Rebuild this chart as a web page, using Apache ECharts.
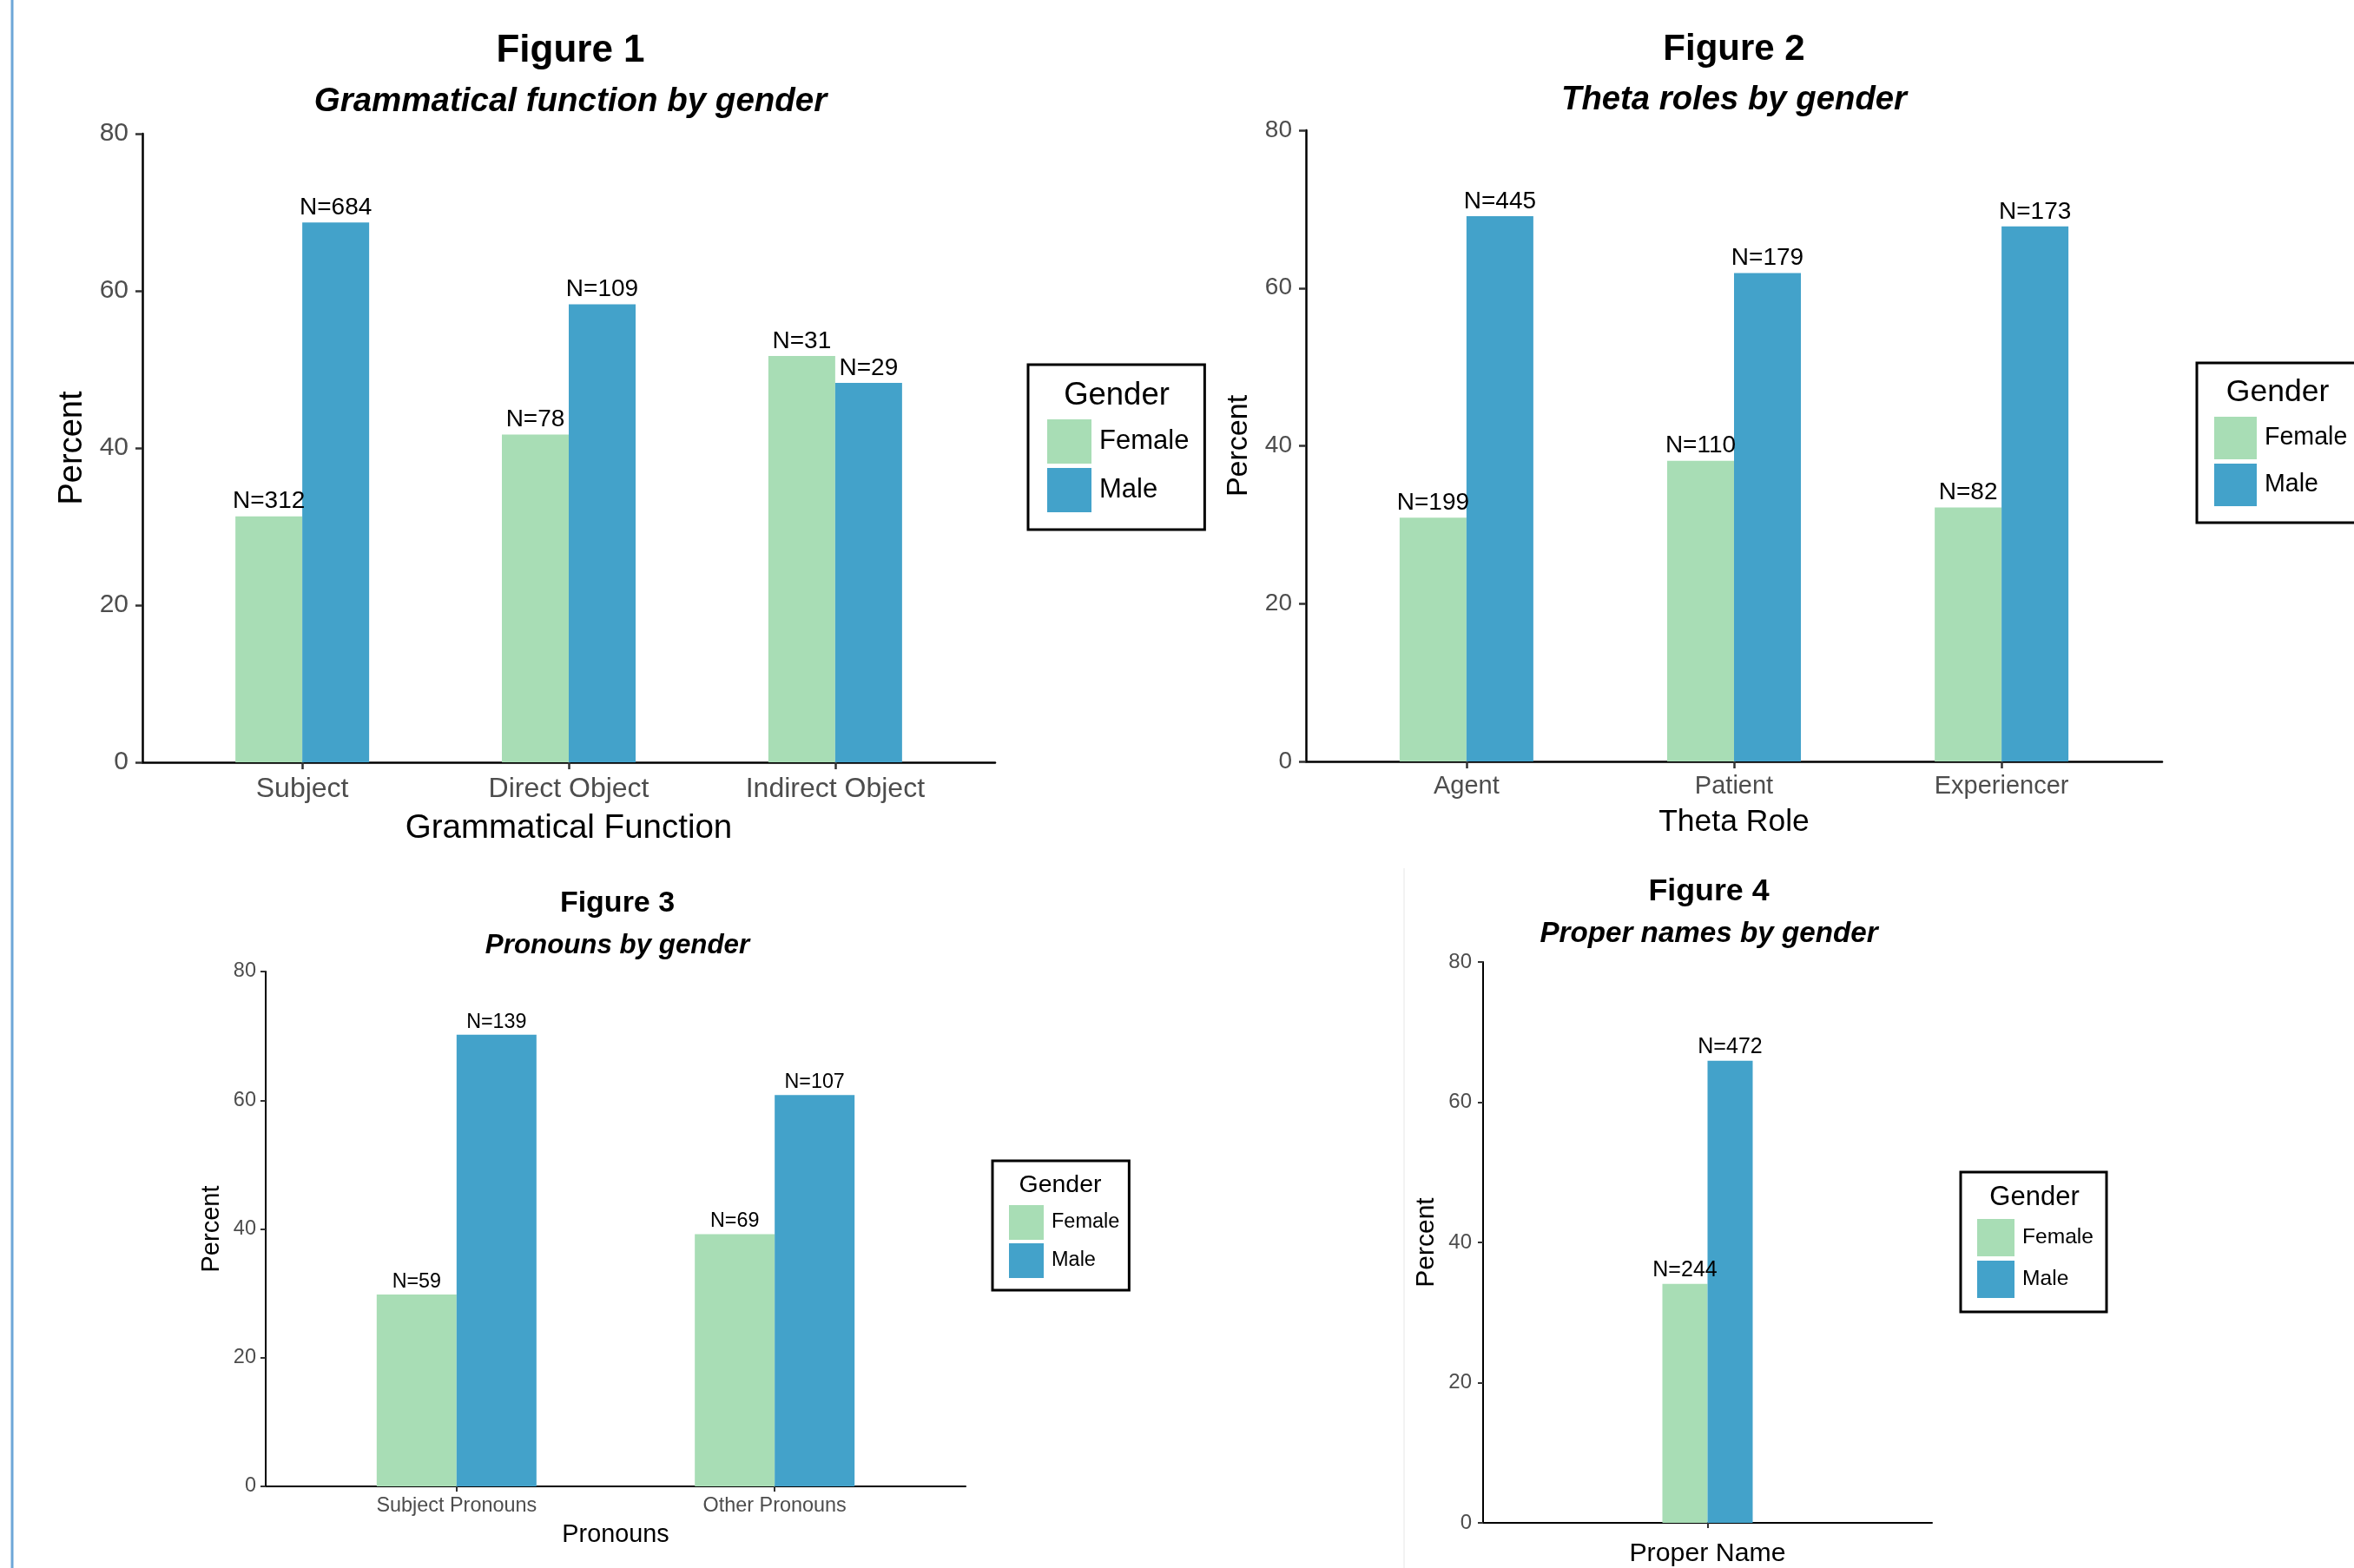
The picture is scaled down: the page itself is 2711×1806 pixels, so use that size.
<!DOCTYPE html>
<html><head><meta charset="utf-8">
<script src="https://cdn.jsdelivr.net/npm/echarts@6/dist/echarts.min.js"></script>
<style>html,body{margin:0;padding:0;background:#fff}#c{width:2711px;height:1806px}</style>
</head><body><div id="c"></div>
<script>
// ---- data ----
const genders = ['Female', 'Male'];
const yTickValues = [0, 20, 40, 60, 80];

const fig1Categories = ['Subject', 'Direct Object', 'Indirect Object'];
const fig1Female = [31.3, 41.7, 51.7];
const fig1Male = [68.7, 58.3, 48.3];
const fig1FemaleN = [312, 78, 31];
const fig1MaleN = [684, 109, 29];

const fig2Categories = ['Agent', 'Patient', 'Experiencer'];
const fig2Female = [30.9, 38.1, 32.2];
const fig2Male = [69.1, 61.9, 67.8];
const fig2FemaleN = [199, 110, 82];
const fig2MaleN = [445, 179, 173];

const fig3Categories = ['Subject Pronouns', 'Other Pronouns'];
const fig3Female = [29.8, 39.2];
const fig3Male = [70.2, 60.8];
const fig3FemaleN = [59, 69];
const fig3MaleN = [139, 107];

const fig4Categories = ['Proper Name'];
const fig4Female = [34.1];
const fig4Male = [65.9];
const fig4FemaleN = [244];
const fig4MaleN = [472];

// ---- styling / layout ----
const NARROW = '"Liberation Sans Narrow","Arial Narrow","Liberation Sans",Arial,sans-serif';
const WIDE = '"Liberation Sans",Arial,sans-serif';
const COLORS = { Female: '#a8ddb5', Male: '#43a2ca' };

const panels = [
  { cats: fig1Categories, vals: [fig1Female, fig1Male], ns: [fig1FemaleN, fig1MaleN],
    title: 'Figure 1', sub: 'Grammatical function by gender', xName: 'Grammatical Function',
    grid: { left: 164, top: 154, width: 982, height: 724 }, barW: 77,
    titleX: 657, titleY: 59, subY: 117, titleFs: 44, subFs: 38.5,
    tickFs: 30, xLabFs: 32, nFs: 28, nameFs: 38.5, yNameFs: 38, lw: 2.5, tickLen: 8,
    xMargin: 15, yMargin: 16, xNameGap: 57, yNameGap: 61, showX: true,
    legend: { left: 1184, top: 420, pad: [63, 18, 20, 22], sw: 51, gap: 5, fs: 31, titleX: 1286, titleY: 456, titleFs: 36.5 } },
  { cats: fig2Categories, vals: [fig2Female, fig2Male], ns: [fig2FemaleN, fig2MaleN],
    title: 'Figure 2', sub: 'Theta roles by gender', xName: 'Theta Role',
    grid: { left: 1504, top: 150, width: 986, height: 727 }, barW: 77,
    titleX: 1997, titleY: 57, subY: 115, titleFs: 42, subFs: 38.3,
    tickFs: 28, xLabFs: 29, nFs: 28, nameFs: 35.5, yNameFs: 34, lw: 2.5, tickLen: 8,
    xMargin: 14, yMargin: 16, xNameGap: 52, yNameGap: 60, showX: true,
    legend: { left: 2530, top: 418, pad: [62, 30, 19, 20], sw: 49, gap: 5, fs: 28.6, titleX: 2623, titleY: 452, titleFs: 35.5 } },
  { cats: fig3Categories, vals: [fig3Female, fig3Male], ns: [fig3FemaleN, fig3MaleN],
    title: 'Figure 3', sub: 'Pronouns by gender', xName: 'Pronouns',
    grid: { left: 306, top: 1119, width: 806, height: 593 }, barW: 92,
    titleX: 711, titleY: 1041, subY: 1089, titleFs: 34, subFs: 31.3,
    tickFs: 23.5, xLabFs: 23.4, nFs: 23.3, nameFs: 28.8, yNameFs: 29, lw: 2, tickLen: 6,
    xMargin: 11, yMargin: 11, xNameGap: 42, yNameGap: 48, showX: true,
    legend: { left: 1143, top: 1337, pad: [51, 11, 14, 19], sw: 40, gap: 4, fs: 23.5, titleX: 1221, titleY: 1365, titleFs: 28.5 } },
  { cats: fig4Categories, vals: [fig4Female, fig4Male], ns: [fig4FemaleN, fig4MaleN],
    title: 'Figure 4', sub: 'Proper names by gender', xName: 'Proper Name',
    grid: { left: 1708, top: 1108, width: 517, height: 649 }, barW: 52,
    titleX: 1968, titleY: 1027, subY: 1076, titleFs: 35.8, subFs: 33.2,
    tickFs: 24, xLabFs: 24, nFs: 25, nameFs: 30.3, yNameFs: 30, lw: 2, tickLen: 6,
    xMargin: 11, yMargin: 13, xNameGap: 21, yNameGap: 50, showX: false,
    legend: { left: 2258, top: 1350, pad: [54, 15, 16, 19], sw: 43, gap: 5, fs: 24.6, titleX: 2343, titleY: 1379, titleFs: 31 } }
];

const option = {
  backgroundColor: '#ffffff',
  animation: false,
  title: [], grid: [], xAxis: [], yAxis: [], series: [], legend: [],
  graphic: [
    { type: 'line', shape: { x1: 14, y1: 0, x2: 14, y2: 1806 }, style: { stroke: '#6ea7d8', lineWidth: 3 } },
    { type: 'line', shape: { x1: 1617, y1: 1000, x2: 1617, y2: 1806 }, style: { stroke: '#efefef', lineWidth: 1.5 } }
  ]
};

panels.forEach((p, i) => {
  const n = p.cats.length;
  option.title.push(
    { text: p.title, left: p.titleX, top: p.titleY, textAlign: 'center', textVerticalAlign: 'middle', padding: 0,
      textStyle: { fontFamily: NARROW, fontWeight: 'bold', fontSize: p.titleFs, color: '#000' } },
    { text: p.sub, left: p.titleX, top: p.subY, textAlign: 'center', textVerticalAlign: 'middle', padding: 0,
      textStyle: { fontFamily: NARROW, fontWeight: 'bold', fontStyle: 'italic', fontSize: p.subFs, color: '#000' } },
    { text: 'Gender', left: p.legend.titleX, top: p.legend.titleY, textAlign: 'center', textVerticalAlign: 'middle', padding: 0,
      textStyle: { fontFamily: NARROW, fontWeight: 'normal', fontSize: p.legend.titleFs, color: '#000' } }
  );
  option.grid.push(Object.assign({ containLabel: false }, p.grid));
  const custom = p.cats.map((c, k) => k + 1);
  option.xAxis.push({
    type: 'value', gridIndex: i, min: 0.4, max: n + 0.6,
    name: p.xName, nameLocation: 'middle', nameGap: p.xNameGap,
    nameTextStyle: { fontFamily: NARROW, fontSize: p.nameFs, color: '#000' },
    axisLine: { show: true, onZero: false, lineStyle: { color: '#000', width: p.lw } },
    axisTick: { show: true, customValues: custom, length: p.tickLen, lineStyle: { color: '#333', width: p.lw } },
    axisLabel: { show: p.showX, customValues: custom, margin: p.xMargin, fontFamily: NARROW, fontSize: p.xLabFs, color: '#4d4d4d',
      formatter: v => p.cats[Math.round(v) - 1] || '' },
    splitLine: { show: false }
  });
  option.yAxis.push({
    type: 'value', gridIndex: i, min: yTickValues[0], max: yTickValues[yTickValues.length - 1], interval: 20,
    name: 'Percent', nameLocation: 'middle', nameGap: p.yNameGap, nameRotate: 90,
    nameTextStyle: { fontFamily: WIDE, fontSize: p.yNameFs, color: '#000' },
    axisLine: { show: true, onZero: false, lineStyle: { color: '#000', width: p.lw } },
    axisTick: { show: true, length: p.tickLen, lineStyle: { color: '#333', width: p.lw } },
    axisLabel: { margin: p.yMargin, fontFamily: NARROW, fontSize: p.tickFs, color: '#4d4d4d' },
    splitLine: { show: false }
  });
  genders.forEach((g, gi) => {
    option.series.push({
      type: 'bar', name: g, xAxisIndex: i, yAxisIndex: i,
      barWidth: p.barW, barGap: '0%',
      itemStyle: { color: COLORS[g] },
      label: { show: true, position: 'top', distance: 3, fontFamily: NARROW, fontSize: p.nFs, color: '#000',
        formatter: params => 'N=' + p.ns[gi][params.dataIndex] },
      data: p.vals[gi].map((v, k) => [k + 1, v])
    });
  });
  option.legend.push({
    data: genders, orient: 'vertical', left: p.legend.left, top: p.legend.top,
    padding: p.legend.pad, itemWidth: p.legend.sw, itemHeight: p.legend.sw, itemGap: p.legend.gap,
    icon: 'rect', selectedMode: false, borderColor: '#000', borderWidth: 3, borderRadius: 0,
    textStyle: { fontFamily: NARROW, fontSize: p.legend.fs, color: '#000', padding: [0, 0, 0, 4] }
  });
});

const chart = echarts.init(document.getElementById('c'));
chart.setOption(option);
</script>
</body></html>
